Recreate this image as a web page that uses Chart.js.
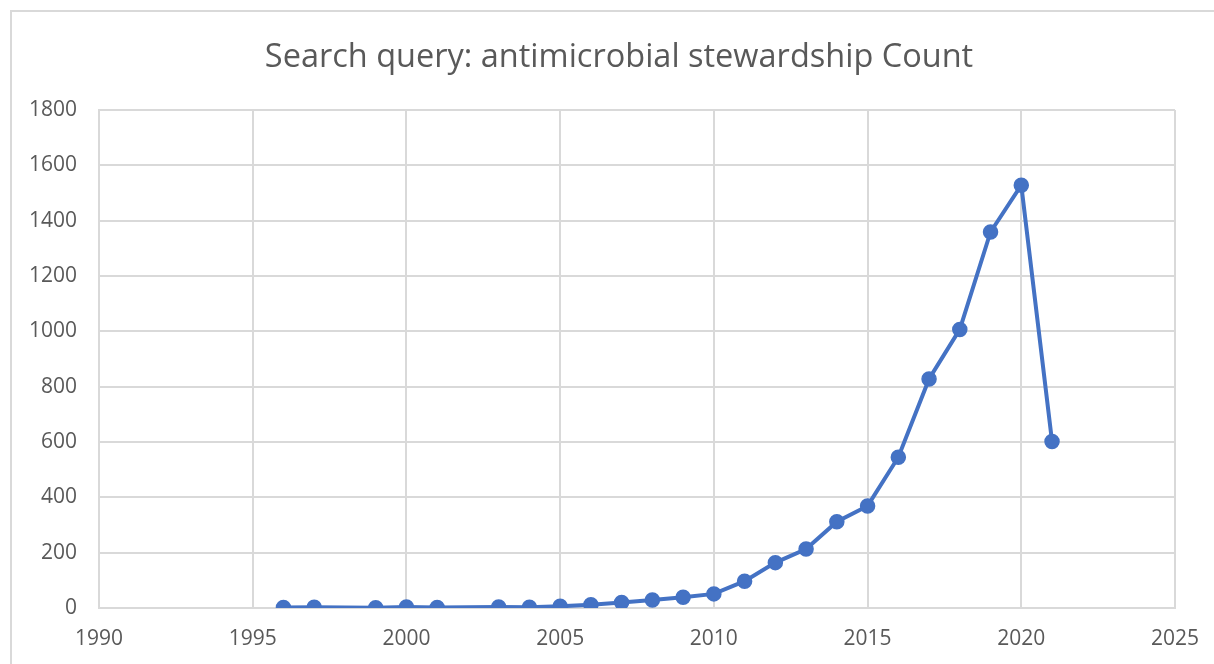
<!DOCTYPE html>
<html>
<head>
<meta charset="utf-8">
<script src="https://cdn.jsdelivr.net/npm/chart.js@4.4.0/dist/chart.umd.min.js"></script>
<style>
  html, body { margin: 0; padding: 0; background: #fff; overflow: hidden; }
  #wrap { position: relative; width: 1214px; height: 664px; }
  #frame { position: absolute; left: 10px; top: 10px; width: 1240px; height: 700px;
           border: 2px solid #d9d9d9; box-sizing: border-box; pointer-events: none; }
  canvas { position: absolute; left: 0; top: 0; }
</style>
</head>
<body>
<div id="wrap">
  <canvas id="chart" width="1214" height="664"></canvas>
  <div id="frame"></div>
</div>
<script>
// Publication counts per year for the search query
const years  = [1996, 1997, 1999, 2000, 2001, 2003, 2004, 2005, 2006, 2007, 2008, 2009,
                2010, 2011, 2012, 2013, 2014, 2015, 2016, 2017, 2018, 2019, 2020, 2021];
const counts = [2, 3, 1, 4, 2, 4, 3, 6, 12, 20, 29, 39,
                51, 97, 164, 213, 312, 369, 545, 828, 1007, 1359, 1528, 602];

const chartTitle = 'Search query: antimicrobial stewardship Count';
const xMin = 1990, xMax = 2025, xStep = 5;
const yMin = 0, yMax = 1800, yStep = 200;

const points = years.map((y, i) => ({ x: y, y: counts[i] }));

const gray = '#d9d9d9';
const textGray = '#595959';
const fontFamily = '"Open Sans", "DejaVu Sans", sans-serif';

// centre the title over the outer frame rather than the padded layout area
const titleShift = {
  id: 'titleShift',
  afterLayout(chart) {
    if (chart.titleBlock) chart.titleBlock.left = 63;
  }
};

new Chart(document.getElementById('chart'), {
  type: 'scatter',
  data: {
    datasets: [{
      data: points,
      showLine: true,
      borderColor: '#4472c4',
      backgroundColor: '#4472c4',
      borderWidth: 4,
      pointRadius: 7,
      pointBorderWidth: 1.5,
      pointHoverRadius: 7
    }]
  },
  options: {
    responsive: false,
    animation: false,
    layout: { padding: { left: 0, right: 39, top: 0, bottom: 0 } },
    plugins: {
      legend: { display: false },
      tooltip: { enabled: false },
      title: {
        display: true,
        text: chartTitle,
        color: textGray,
        font: { family: fontFamily, size: 32.5, weight: 'normal' },
        padding: { top: 38, bottom: 33 }
      }
    },
    scales: {
      x: {
        type: 'linear',
        min: xMin, max: xMax,
        ticks: {
          stepSize: xStep,
          color: textGray,
          font: { family: fontFamily, size: 21 },
          padding: 18,
          callback: v => String(v)
        },
        grid: { color: gray, lineWidth: 2, drawTicks: false },
        border: { color: gray, width: 2 },
        afterFit: s => { s.height = 56; s.paddingLeft = 0; s.paddingRight = 0; }
      },
      y: {
        min: yMin, max: yMax,
        ticks: {
          stepSize: yStep,
          color: textGray,
          font: { family: fontFamily, size: 21 },
          padding: 22,
          callback: v => String(v)
        },
        grid: { color: gray, lineWidth: 2, drawTicks: false },
        border: { color: gray, width: 2 },
        afterFit: s => { s.width = 99; }
      }
    }
  },
  plugins: [titleShift]
});
</script>
</body>
</html>
